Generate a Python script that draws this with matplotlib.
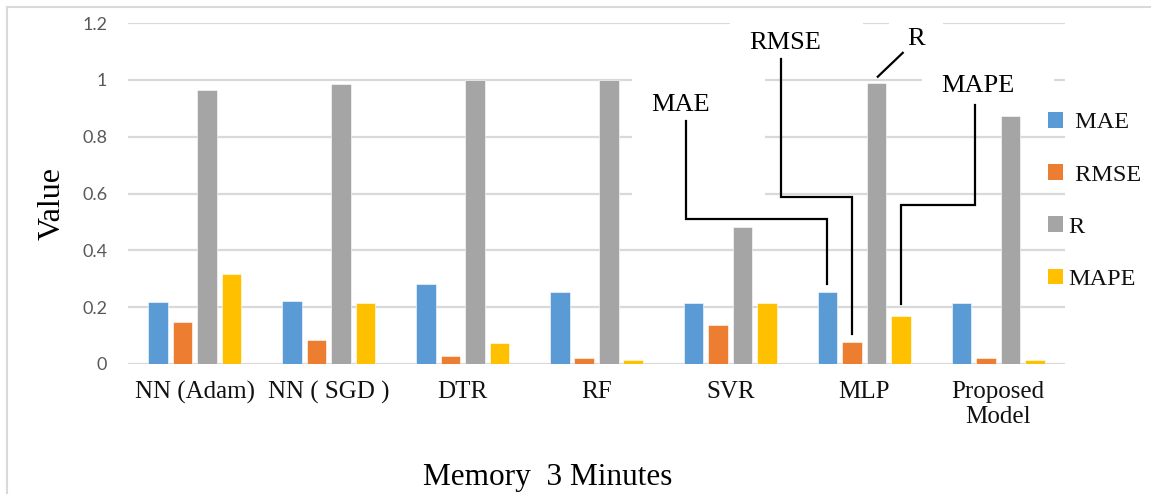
import matplotlib
matplotlib.use("Agg")
import matplotlib.pyplot as plt
import numpy as np
from matplotlib.patches import Patch, Rectangle
from matplotlib.lines import Line2D

# ---- data ----
categories = ["NN (Adam)", "NN ( SGD )", "DTR", "RF", "SVR", "MLP", "Proposed\nModel"]
series_names = ["MAE", "RMSE", "R", "MAPE"]
legend_labels = [" MAE", " RMSE", "R", "MAPE"]
mae  = [0.219, 0.223, 0.281, 0.252, 0.216, 0.252, 0.216]
rmse = [0.147, 0.085, 0.028, 0.020, 0.136, 0.078, 0.020]
r    = [0.964, 0.985, 0.998, 0.998, 0.481, 0.988, 0.874]
mape = [0.315, 0.216, 0.074, 0.013, 0.213, 0.168, 0.013]
colors = ["#5B9BD5", "#ED7D31", "#A5A5A5", "#FFC000"]
y_ticks = [0, 0.2, 0.4, 0.6, 0.8, 1, 1.2]
y_tick_labels = ["0", "0.2", "0.4", "0.6", "0.8", "1", "1.2"]

values = [mae, rmse, r, mape]

W, H = 1151, 494
fig = plt.figure(figsize=(W / 100, H / 100), dpi=100)
ax = fig.add_axes([128 / W, 1 - 364 / H, (1065 - 128) / W, (364 - 23) / H])

serif = "Liberation Serif"
x = np.arange(len(categories))
bw = 0.146
step = 0.183
bars = []
for i, (vals, c) in enumerate(zip(values, colors)):
    b = ax.bar(x + (i - 1.5) * step, vals, width=bw, color=c, zorder=2,
               edgecolor="white", linewidth=0.4)
    bars.append(b)

ax.set_xlim(-0.5, len(categories) - 0.5)
ax.set_ylim(0, 1.2)
ax.set_yticks(y_ticks)
ax.set_yticklabels(y_tick_labels, fontfamily="Lato", fontsize=13, color="#595959")
ax.set_xticks(x)
ax.set_xticklabels(categories, fontfamily=serif, fontsize=18, color="#111111",
                   linespacing=1.2)
ax.tick_params(axis="y", length=0, pad=15)
ax.tick_params(axis="x", length=0, pad=12)
for s in ax.spines.values():
    s.set_visible(False)
ax.set_axisbelow(True)
ax.yaxis.grid(True, color="#D9D9D9", linewidth=1.6, zorder=0.5)
ax.xaxis.grid(False)

# white callout boxes that interrupt the gridlines
boxes = [(3.264, 0.55, 0.993, 0.50), (3.996, 1.08, 0.993, 0.14),
         (5.183, 1.08, 0.404, 0.14), (5.43, 0.90, 0.99, 0.20)]
for bx, by, bwid, bh in boxes:
    ax.add_patch(Rectangle((bx, by), bwid, bh, facecolor="white", edgecolor="none",
                           zorder=1, clip_on=False))

# data callouts for the MLP group
mlp = categories.index("MLP")
def bar_x(si):
    return mlp + (si - 1.5) * step

lk = dict(color="black", linewidth=1.6, zorder=3, clip_on=False, solid_joinstyle="miter")
tk = dict(fontfamily=serif, fontsize=19, color="black", ha="center", va="center", zorder=4)

# MAE
ax.plot([3.67, 3.67, bar_x(0), bar_x(0)], [0.856, 0.509, 0.509, mae[mlp] + 0.029], **lk)
ax.text(3.63, 0.912, "MAE", **tk)
# RMSE
ax.plot([4.377, 4.377, bar_x(1), bar_x(1)], [1.074, 0.589, 0.589, rmse[mlp] + 0.027], **lk)
ax.text(4.407, 1.13, "RMSE", **tk)
# R
ax.plot([5.288, bar_x(2) + 0.01], [1.095, r[mlp] + 0.023], **lk)
ax.text(5.39, 1.144, "R", **tk)
# MAPE
ax.plot([5.826, 5.826, bar_x(3), bar_x(3)], [0.912, 0.561, 0.561, mape[mlp] + 0.042], **lk)
ax.text(5.848, 0.979, "MAPE", **tk)

# legend
handles = [Patch(facecolor=c, edgecolor="none") for c in colors]
leg = fig.legend(handles, legend_labels, loc="center left",
                 bbox_to_anchor=(1048 / W, 1 - 201 / H), frameon=False,
                 prop={"family": serif, "size": 17.5}, handlelength=0.6,
                 handleheight=0.6, handletextpad=0.25, labelspacing=1.27,
                 borderpad=0, borderaxespad=0)
for t in leg.get_texts():
    t.set_color("#111111")

# axis titles
fig.text(52 / W, 1 - 203 / H, "Value", rotation=90, fontfamily=serif, fontsize=23,
         ha="center", va="center", color="black")
fig.text(548 / W, 9 / H, "Memory  3 Minutes", fontfamily=serif, fontsize=22.5,
         ha="center", va="baseline", color="black")

# outer border (top and left only visible)
fig.add_artist(Line2D([7.5 / W, 1], [1 - 7 / H, 1 - 7 / H], color="#D9D9D9", linewidth=1.5))
fig.add_artist(Line2D([7.5 / W, 7.5 / W], [0, 1 - 7 / H], color="#D9D9D9", linewidth=1.5))

fig.savefig("out.png", dpi=100, facecolor="white")
